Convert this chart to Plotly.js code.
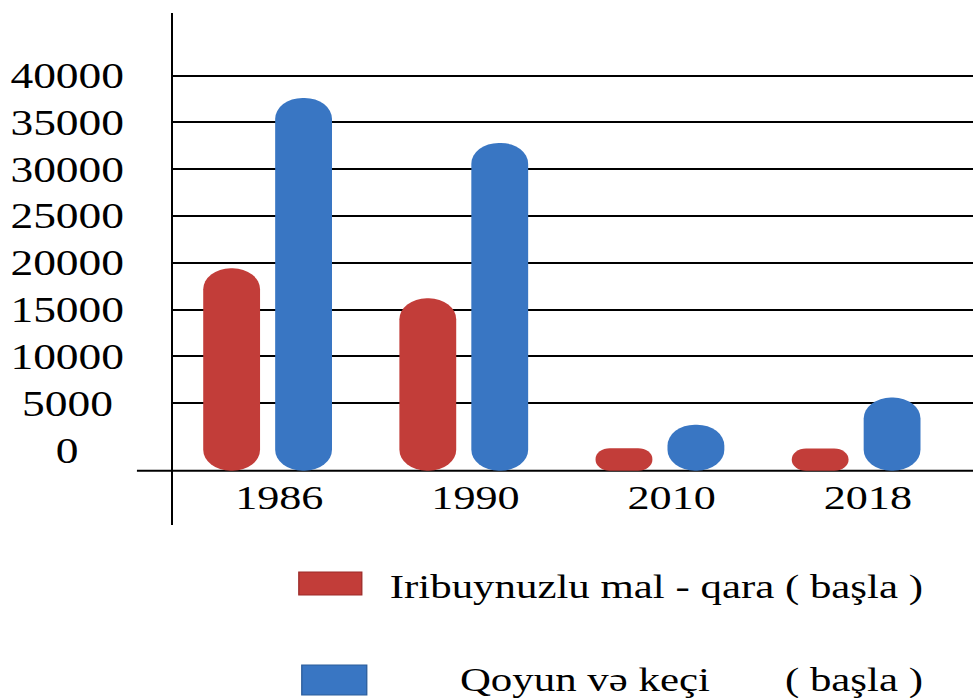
<!DOCTYPE html>
<html>
<head>
<meta charset="utf-8">
<script src="https://cdn.plot.ly/plotly-3.0.1.min.js"></script>
<style>
  html, body { margin: 0; padding: 0; background: #ffffff; overflow: hidden; }
  #wrap { width: 973px; height: 698px; overflow: hidden; }
  #chart { width: 749px; height: 698px; transform: scaleX(1.2991); transform-origin: 0 0; }
</style>
</head>
<body>
<div id="wrap"><div id="chart"></div></div>
<script>
// ---- data ----
const categories = ['1986', '1990', '2010', '2018'];
const cattle = [19400, 16200, 200, 150];          // Iribuynuzlu mal - qara
const sheepGoats = [37600, 32800, 2700, 5600];    // Qoyun və keçi
const seriesNames = [
  'Iribuynuzlu mal - qara ( başla )',
  'Qoyun və keçi' + '\u00A0'.repeat(7) + '( başla )'
];
const yTickVals = [0, 5000, 10000, 15000, 20000, 25000, 30000, 35000, 40000];
const yTickText = ['0', '5000', '10000', '15000', '20000', '25000', '30000', '35000', '40000'];

// ---- style / layout constants ----
const AXIS_BASE = -2211;           // where the drawn floor line sits
const Y_RANGE = [-8011, 46676];
const X_RANGE = [-0.4834, 3.596];
const RED = '#c23d39', BLUE = '#3976c3';
const FONT = 'Liberation Serif, Times New Roman, serif';

// Each bar hangs from its value down to the floor line, with rounded ends.
function capsule(vals, color, group, name) {
  return {
    type: 'bar', name: name, x: categories, offsetgroup: group,
    base: vals,
    y: vals.map(v => AXIS_BASE - v),
    marker: { color: color, cornerradius: '50%', line: { width: 0 } },
    hoverinfo: 'skip', showlegend: false
  };
}

const traces = [
  capsule(cattle, RED, 'a', seriesNames[0]),
  capsule(sheepGoats, BLUE, 'b', seriesNames[1])
];

const gridVals = yTickVals.filter(v => v > 0);

const annotations = yTickVals.map((v, i) => ({
  xref: 'paper', yref: 'y', x: -0.131, y: v, yshift: -1,
  text: yTickText[i], showarrow: false, xanchor: 'center', yanchor: 'middle',
  font: { family: FONT, size: 35, color: '#000' }
}));
annotations.push({
  xref: 'paper', yref: 'paper', x: 0.2674, y: -0.123, text: seriesNames[0],
  showarrow: false, xanchor: 'left', yanchor: 'middle',
  font: { family: FONT, size: 33, color: '#000' }
});
annotations.push({
  xref: 'paper', yref: 'paper', x: 0.3548, y: -0.304, text: seriesNames[1],
  showarrow: false, xanchor: 'left', yanchor: 'middle',
  font: { family: FONT, size: 33, color: '#000' }
});

const shapes = [
  { type: 'line', layer: 'below', xref: 'paper', yref: 'y', x0: -0.0448, x1: 1, y0: AXIS_BASE, y1: AXIS_BASE,
    line: { color: '#000', width: 2 } },
  { type: 'rect', xref: 'paper', yref: 'paper', x0: 0.1575, x1: 0.2362, y0: -0.0918, y1: -0.1367,
    fillcolor: RED, line: { color: '#9c2b28', width: 1 } },
  { type: 'rect', xref: 'paper', yref: 'paper', x0: 0.1612, x1: 0.2424, y0: -0.2734, y1: -0.332,
    fillcolor: BLUE, line: { color: '#2a5c9a', width: 1 } }
];

const layout = {
  width: 749, height: 698,
  margin: { l: 133, r: 0, t: 13, b: 173 },
  paper_bgcolor: '#ffffff', plot_bgcolor: '#ffffff',
  barmode: 'group', bargap: 0.2665, bargroupgap: 0.21,
  showlegend: false,
  xaxis: {
    type: 'category', range: X_RANGE, anchor: 'free', position: 0.106,
    showline: false, showgrid: false, zeroline: false, ticks: '',
    ticklabelshift: 9, ticklabelstandoff: 3,
    tickfont: { family: FONT, size: 34, color: '#000' }
  },
  yaxis: {
    range: Y_RANGE, tickvals: gridVals, showticklabels: false, ticks: '',
    showgrid: true, gridcolor: '#000', gridwidth: 2, zeroline: false,
    showline: true, linecolor: '#000', linewidth: 1.6
  },
  annotations: annotations,
  shapes: shapes
};

Plotly.newPlot('chart', traces, layout, { staticPlot: true, displayModeBar: false });
</script>
</body>
</html>
